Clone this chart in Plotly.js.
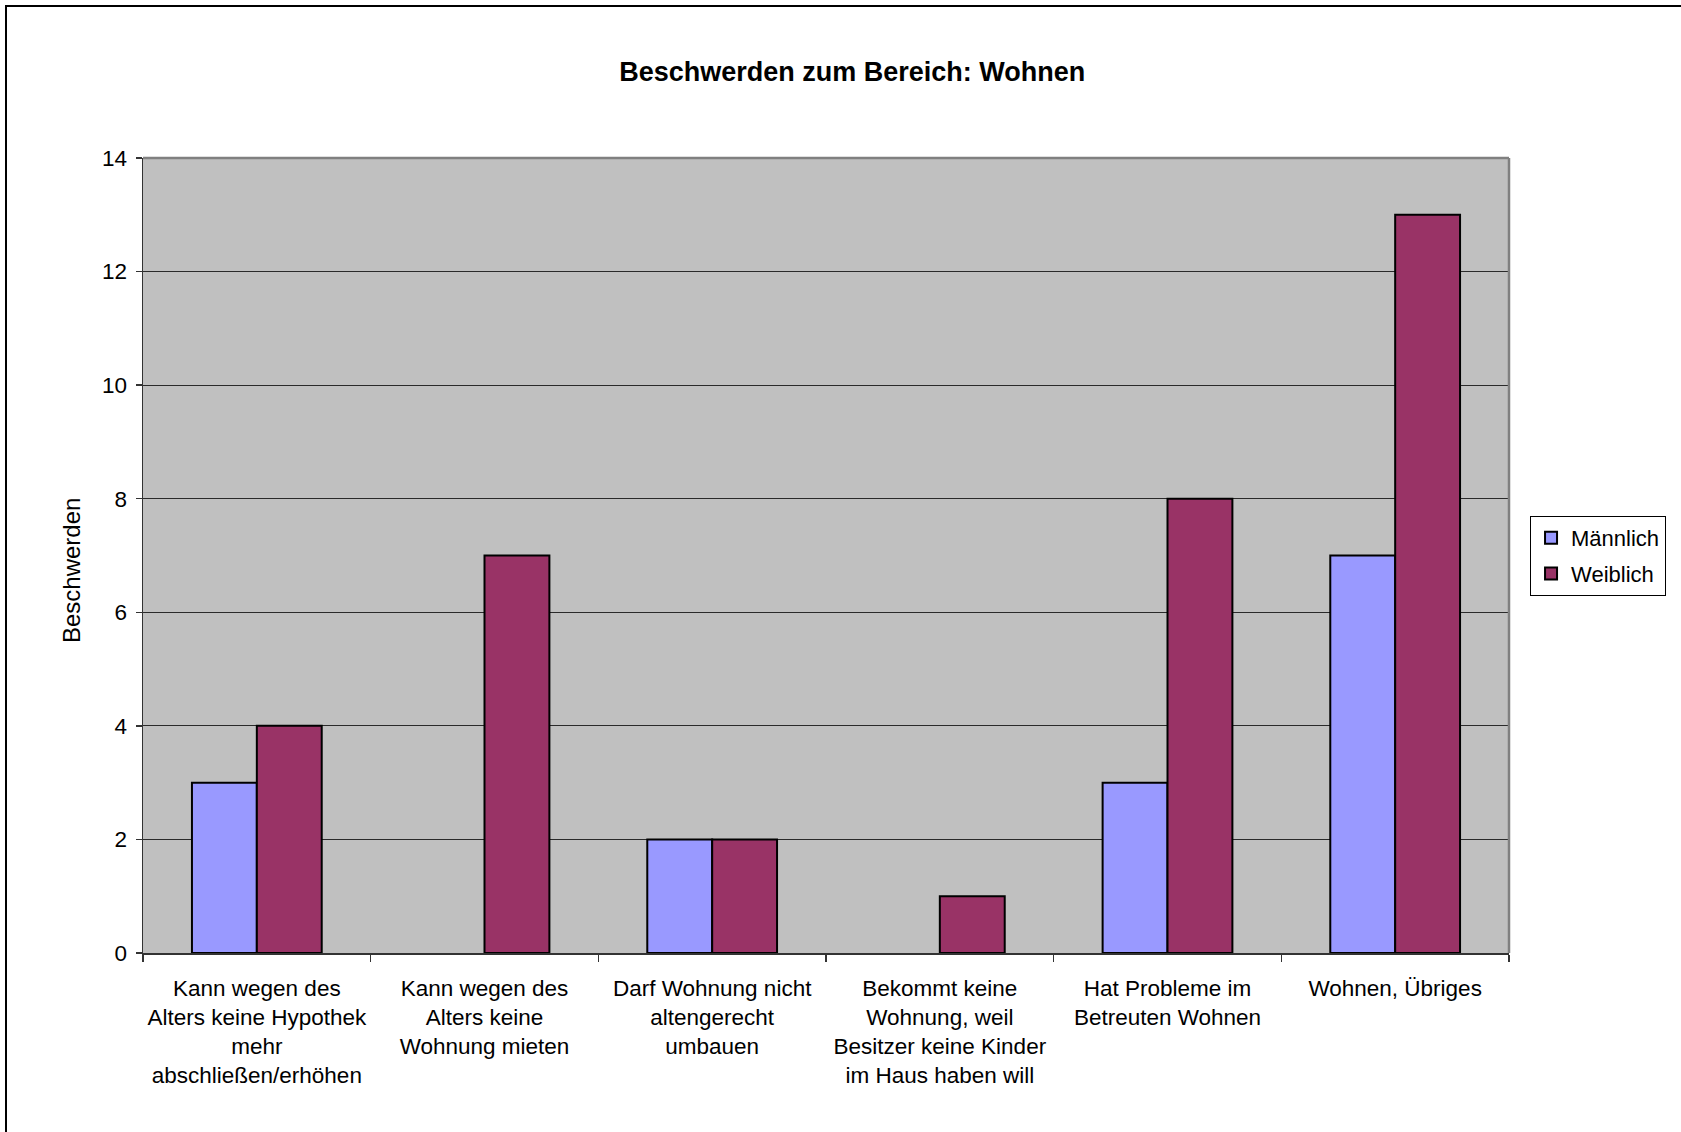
<!DOCTYPE html>
<html>
<head>
<meta charset="utf-8">
<script src="https://cdn.plot.ly/plotly-3.0.1.min.js"></script>
<style>
  html, body { margin: 0; padding: 0; background: #fff; overflow: hidden; }
  #wrap { position: relative; width: 1681px; height: 1132px; }
  #chart { width: 1681px; height: 1132px; }
  /* chart frame: only the top and left edges fall inside the page */
  #frame {
    position: absolute; left: 5px; top: 5px; width: 1800px; height: 1300px;
    border-left: 2px solid #000; border-top: 2px solid #000;
    pointer-events: none;
  }
</style>
</head>
<body>
<div id="wrap">
  <div id="chart"></div>
  <div id="frame"></div>
</div>
<script>
// Complaint categories (line breaks as shown under the axis)
const categories = [
  "Kann wegen des<br>Alters keine Hypothek<br>mehr<br>abschließen/erhöhen",
  "Kann wegen des<br>Alters keine<br>Wohnung mieten",
  "Darf Wohnung nicht<br>altengerecht<br>umbauen",
  "Bekommt keine<br>Wohnung, weil<br>Besitzer keine Kinder<br>im Haus haben will",
  "Hat Probleme im<br>Betreuten Wohnen",
  "Wohnen, Übriges"
];

// Number of complaints per category
const maennlich = [3, null, 2, null, 3, 7];
const weiblich  = [4, 7, 2, 1, 8, 13];

const seriesNames = ["Männlich", "Weiblich"];
const yTicks = [0, 2, 4, 6, 8, 10, 12, 14];

const FONT = "Liberation Sans, Arial, Helvetica, sans-serif";

const traces = [
  {
    type: "bar", name: seriesNames[0], x: categories, y: maennlich,
    marker: { color: "#9999FF", line: { color: "#000", width: 2 } },
    legendgroup: "m", hoverinfo: "y"
  },
  {
    type: "bar", name: seriesNames[1], x: categories, y: weiblich,
    marker: { color: "#993366", line: { color: "#000", width: 2 } },
    legendgroup: "w", hoverinfo: "y"
  }
];

const layout = {
  width: 1681, height: 1132,
  margin: { l: 143, r: 172, t: 158, b: 179, pad: 0 },
  paper_bgcolor: "#FFFFFF",
  plot_bgcolor: "#C0C0C0",
  font: { family: FONT, size: 22, color: "#000" },
  barmode: "group",
  bargap: 0.43,
  bargroupgap: 0,
  title: {
    text: "<b>Beschwerden zum Bereich: Wohnen</b>",
    font: { family: FONT, size: 27, color: "#000" },
    x: 0.507, xref: "container", xanchor: "center",
    y: 0.937, yref: "container", yanchor: "middle"
  },
  xaxis: {
    type: "category",
    tickson: "boundaries",
    tickangle: 0,
    ticks: "outside", ticklen: 7, tickwidth: 1.5, tickcolor: "#333",
    showline: true, linecolor: "#333", linewidth: 1.5,
    showgrid: false, zeroline: false,
    tickfont: { family: FONT, size: 22.5, color: "#000" },
    ticklabelstandoff: 14,
    automargin: false
  },
  yaxis: {
    range: [0, 14],
    tickvals: yTicks,
    ticktext: yTicks.map(String),
    ticks: "outside", ticklen: 6, tickwidth: 1.5, tickcolor: "#333",
    showline: true, linecolor: "#333", linewidth: 1.5,
    showgrid: true, gridcolor: "#2a2a2a", gridwidth: 1,
    zeroline: false,
    tickfont: { family: FONT, size: 22.5, color: "#000" },
    ticklabelstandoff: 4,
    automargin: false
  },
  annotations: [
    {
      text: "Beschwerden", textangle: -90,
      xref: "paper", yref: "paper", x: -0.0527, y: 0.4805,
      xanchor: "center", yanchor: "middle", showarrow: false,
      font: { family: FONT, size: 24, color: "#000" }
    }
  ],
  shapes: [
    // grey top and right edges of the plot area
    { type: "line", xref: "paper", yref: "paper", x0: 0, x1: 1, y0: 1, y1: 1,
      line: { color: "#808080", width: 2.5 }, layer: "above" },
    { type: "line", xref: "paper", yref: "paper", x0: 1, x1: 1, y0: 0, y1: 1,
      line: { color: "#808080", width: 2.5 }, layer: "above" }
  ],
  showlegend: true,
  legend: {
    x: 1.0154, xanchor: "left", y: 0.5497, yanchor: "top",
    xref: "paper", yref: "paper",
    bgcolor: "#FFFFFF", bordercolor: "#000", borderwidth: 1,
    font: { family: FONT, size: 22, color: "#000" },
    traceorder: "grouped", tracegroupgap: 4,
    itemwidth: 30
  },
  hovermode: false
};

Plotly.newPlot("chart", traces, layout, { displayModeBar: false, staticPlot: true });
</script>
</body>
</html>
